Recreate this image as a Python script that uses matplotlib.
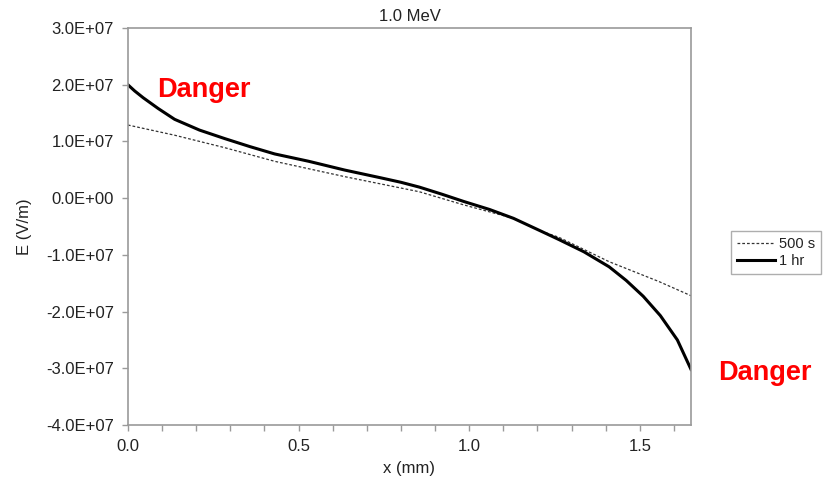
import matplotlib
matplotlib.use("Agg")
import matplotlib.pyplot as plt
from matplotlib.ticker import FuncFormatter, MultipleLocator

plt.rcParams["font.family"] = ["Liberation Sans", "DejaVu Sans"]

# values
x_500s = [0.0, 0.137, 0.284, 0.43, 0.635, 0.854, 0.985, 1.13, 1.21, 1.263, 1.41, 1.556, 1.65]
e_500s = [1.29e7, 1.11e7, 8.9e6, 6.5e6, 3.8e6, 1.13e6, -1.2e6, -3.56e6, -5.8e6,
          -6.9e6, -1.12e7, -1.47e7, -1.72e7]

x_1hr = [0.0, 0.02, 0.045, 0.089, 0.137, 0.21, 0.284, 0.357, 0.43, 0.53, 0.635,
         0.74, 0.8, 0.854, 0.92, 0.985, 1.06, 1.13, 1.21, 1.263, 1.336, 1.41, 1.46,
         1.51, 1.56, 1.61, 1.65]
e_1hr = [2.0e7, 1.89e7, 1.77e7, 1.58e7, 1.39e7, 1.2e7, 1.05e7, 9.1e6, 7.8e6, 6.5e6,
         4.96e6, 3.6e6, 2.8e6, 1.95e6, 7e5, -6e5, -2.0e6, -3.56e6, -5.8e6, -7.3e6,
         -9.45e6, -1.21e7, -1.45e7, -1.73e7, -2.07e7, -2.5e7, -3.02e7]

series_labels = ["500 s", "1 hr"]
title = "1.0 MeV"
annotation = "Danger"

grey = "#9a9a9a"
text_col = "#222222"
fs = 12

fig = plt.figure(figsize=(8.25, 4.83), dpi=100)
ax = fig.add_axes([0.155, 0.12, 0.6826, 0.822])

ax.plot(x_500s, e_500s, color="#333333", lw=0.9, linestyle=(0, (2.2, 1.6)),
        label=series_labels[0])
ax.plot(x_1hr, e_1hr, color="black", lw=2.2, label=series_labels[1])

ax.set_xlim(0, 1.65)
ax.set_ylim(-4e7, 3e7)
ax.yaxis.set_major_locator(MultipleLocator(1e7))
ax.xaxis.set_major_locator(MultipleLocator(0.5))
ax.xaxis.set_minor_locator(MultipleLocator(0.1))


def sci_fmt(v, pos):
    if abs(v) < 1:
        return "0.0E+00"
    return "%.1E" % v


ax.yaxis.set_major_formatter(FuncFormatter(sci_fmt))
ax.xaxis.set_major_formatter(FuncFormatter(lambda v, p: "%.1f" % v))

for side in ax.spines.values():
    side.set_color(grey)
    side.set_linewidth(1.2)

ax.tick_params(axis="both", which="both", direction="out", color=grey,
               length=4, width=1, labelsize=fs, labelcolor=text_col)
ax.tick_params(axis="x", which="both", pad=6)
ax.tick_params(axis="y", pad=6)

ax.set_title(title, fontsize=fs, color=text_col, pad=5)
ax.set_xlabel("x (mm)", fontsize=fs, color=text_col, labelpad=5)
ax.set_ylabel("E (V/m)", fontsize=fs, color=text_col, labelpad=10)

fig.text(0.19, 0.813, annotation, color="red", fontsize=19.5, fontweight="bold",
         va="center", ha="left")
fig.text(0.87, 0.228, annotation, color="red", fontsize=19.5, fontweight="bold",
         va="center", ha="left")

leg = fig.legend(loc="upper left", bbox_to_anchor=(0.886, 0.522), fontsize=10.5,
                 frameon=True, fancybox=False, handlelength=2.6,
                 handletextpad=0.3, borderpad=0.4, labelspacing=0.25,
                 borderaxespad=0)
leg.get_frame().set_edgecolor(grey)
leg.get_frame().set_linewidth(1.0)
for t in leg.get_texts():
    t.set_color(text_col)

fig.savefig("out.png", dpi=100)
